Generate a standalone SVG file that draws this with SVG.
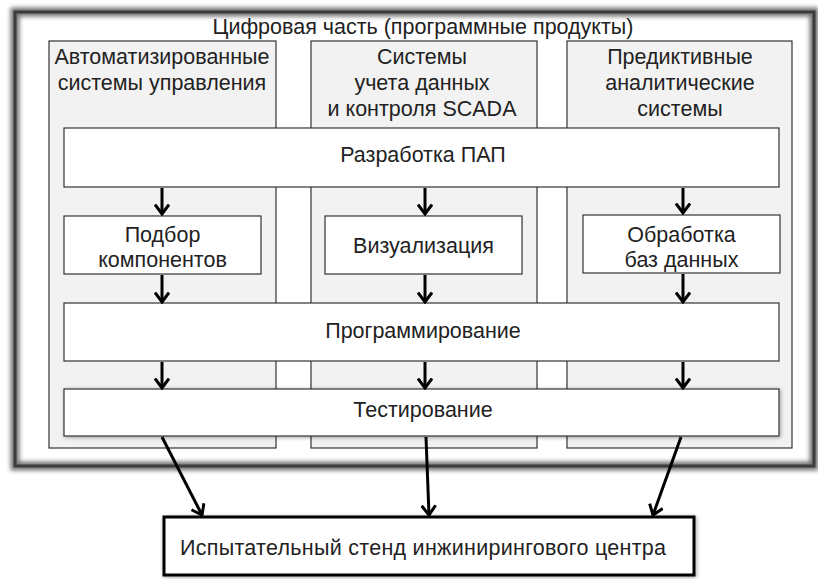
<svg xmlns="http://www.w3.org/2000/svg" width="818" height="579" viewBox="0 0 818 579">
<defs>
<style>
text{font-family:"Liberation Sans",Arial,sans-serif;font-size:21.5px;fill:#222;text-anchor:middle}
.col{fill:#f2f2f2;stroke:#333;stroke-width:1.2}
.box{fill:#fff;stroke:#333;stroke-width:1.2}
.arr{stroke:#000;stroke-width:3;fill:none;marker-end:url(#ah)}
</style>
<marker id="ah" viewBox="0 0 12 16" refX="10.5" refY="8" markerWidth="12" markerHeight="16" markerUnits="userSpaceOnUse" orient="auto">
<path d="M1,1 L10.5,8 L1,15" fill="none" stroke="#000" stroke-width="3"/>
</marker>
<filter id="blur" x="-5%" y="-5%" width="110%" height="110%"><feGaussianBlur stdDeviation="2"/></filter>
<filter id="sh" x="-10%" y="-20%" width="120%" height="150%"><feGaussianBlur in="SourceAlpha" stdDeviation="2"/><feOffset dx="1" dy="1"/><feComponentTransfer><feFuncA type="linear" slope="0.35"/></feComponentTransfer><feMerge><feMergeNode/><feMergeNode in="SourceGraphic"/></feMerge></filter>
</defs>
<rect width="818" height="579" fill="#fff"/>
<g id="frame">
<rect x="15" y="12" width="799" height="454" fill="none" stroke="#777" stroke-width="9" filter="url(#blur)"/>
<rect x="15" y="12" width="799" height="454" fill="none" stroke="#3c3c3c" stroke-width="3"/>
<text x="423" y="34">Цифровая часть (программные продукты)</text>
</g>
<g id="col1"><rect class="col" x="49" y="41" width="227" height="407"/>
<text x="162" y="64">Автоматизированные</text><text x="162" y="90">системы управления</text></g>
<g id="col2"><rect class="col" x="311" y="41" width="226" height="407"/>
<text x="422" y="64">Системы</text><text x="422" y="90">учета данных</text><text x="422" y="116">и контроля SCADA</text></g>
<g id="col3"><rect class="col" x="567" y="41" width="225" height="407"/>
<text x="680" y="64">Предиктивные</text><text x="680" y="90">аналитические</text><text x="680" y="116">системы</text></g>
<g id="pap"><rect class="box" x="64" y="128" width="715" height="59"/><text x="423" y="162">Разработка ПАП</text></g>
<g id="podbor"><rect class="box" x="64" y="216" width="197" height="58"/><text x="162.5" y="242">Подбор</text><text x="162.5" y="267">компонентов</text></g>
<g id="vis"><rect class="box" x="325" y="216" width="197" height="58"/><text x="423.5" y="253">Визуализация</text></g>
<g id="db"><rect class="box" x="583" y="215" width="197" height="58"/><text x="681.5" y="241.5">Обработка</text><text x="681.5" y="267">баз данных</text></g>
<g id="prog"><rect class="box" x="64" y="303" width="715" height="58"/><text x="423" y="338">Программирование</text></g>
<g id="test"><rect class="box" x="64" y="389" width="715" height="47" filter="url(#sh)"/><text x="423" y="417">Тестирование</text></g>
<g id="stand"><rect x="164" y="517" width="530" height="58" fill="#fff" stroke="#000" stroke-width="3" filter="url(#sh)"/><text x="423" y="555" textLength="486" lengthAdjust="spacing">Испытательный стенд инжинирингового центра</text></g>
<g id="connectors">
<line class="arr" x1="162" y1="188" x2="162" y2="214"/>
<line class="arr" x1="425" y1="188" x2="425" y2="214"/>
<line class="arr" x1="683" y1="188" x2="683" y2="213"/>
<line class="arr" x1="162" y1="275" x2="162" y2="302"/>
<line class="arr" x1="425" y1="275" x2="425" y2="302"/>
<line class="arr" x1="683" y1="274" x2="683" y2="302"/>
<line class="arr" x1="162" y1="362" x2="162" y2="388"/>
<line class="arr" x1="425" y1="362" x2="425" y2="388"/>
<line class="arr" x1="683" y1="362" x2="683" y2="388"/>
<line class="arr" x1="162" y1="437" x2="202" y2="515"/>
<line class="arr" x1="426" y1="437" x2="429" y2="515"/>
<line class="arr" x1="681" y1="437" x2="653" y2="515"/>
</g>
</svg>
